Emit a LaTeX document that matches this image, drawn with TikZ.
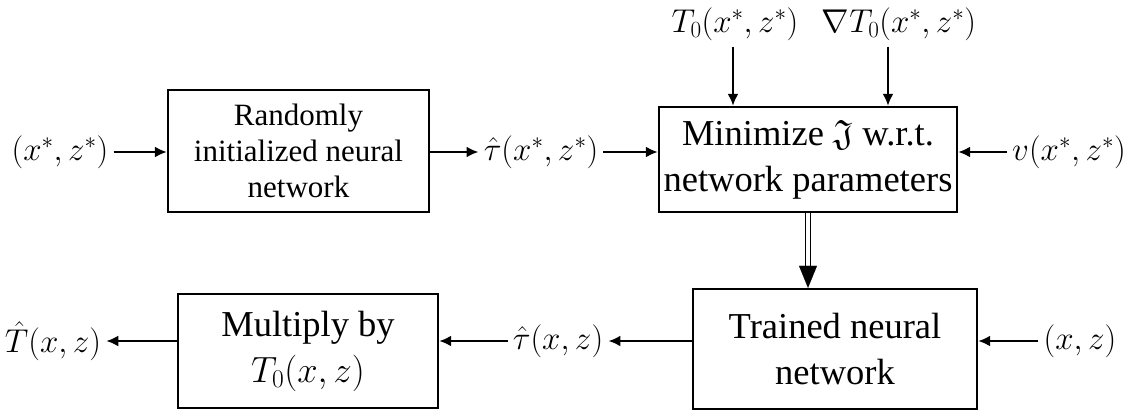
\RequirePackage{fix-cm}
\documentclass[tikz,border=0pt]{standalone}
\usepackage{amssymb}
\usepackage{fontspec}
\setmainfont{Liberation Serif}
\newfontfamily\boxfont{Liberation Serif}
\usetikzlibrary{arrows.meta,calc}
\begin{document}
\begin{tikzpicture}[x=1pt,y=-1pt,
  blk/.style={draw,line width=2.3pt,align=center,inner sep=0pt},
  small/.style={font=\boxfont\fontsize{31}{36}\selectfont},
  big/.style={font=\boxfont\fontsize{36.5}{46}\selectfont},
  lbl/.style={inner sep=5pt,font=\fontsize{33}{36}\selectfont},
  toplbl/.style={lbl,inner ysep=3pt},
  arr/.style={line width=2.4pt,-{Latex[length=12pt,width=11pt]}},
]
\useasboundingbox[fill=white] (0,0) rectangle (1135,412);

% processing blocks
\node[blk,small,minimum width=261pt,minimum height=122pt] (rnd) at (298.5,151)
  {Randomly\\initialized neural\\network};
\node[blk,big,minimum width=298pt,minimum height=105pt] (opt) at (808,159.5)
  {Minimize $\mathfrak{J}$ w.r.t.\\network parameters};
\node[blk,big,minimum width=284pt,minimum height=120pt] (trn) at (835,349)
  {Trained neural\\network};
\node[blk,big,minimum width=260pt,minimum height=114pt] (mul) at (308,351)
  {Multiply by\\$T_0(x,z)$};

% signals
\node[lbl] (xs)   at (60,152)   {$(x^{*},z^{*})$};
\node[lbl] (taus) at (541,152)  {$\hat{\tau}(x^{*},z^{*})$};
\node[toplbl] (t0)  at (735,24) {$T_0(x^{*},z^{*})$};
\node[toplbl] (gt0) at (899,24) {$\nabla T_0(x^{*},z^{*})$};
\node[lbl] (vs)   at (1069,152) {$v(x^{*},z^{*})$};
\node[lbl] (xz)   at (1080,341) {$(x,z)$};
\node[lbl] (tau)  at (558,341)  {$\hat{\tau}(x,z)$};
\node[lbl] (that) at (53,341)   {$\hat{T}(x,z)$};

% top row
\draw[arr] (xs.east) -- (rnd.west |- xs.east);
\draw[arr] (rnd.east |- taus.west) -- (taus.west);
\draw[arr] (taus.east) -- (opt.west |- taus.east);
\draw[arr] (vs.west) -- (opt.east |- vs.west);
\draw[arr] ([xshift=-2pt,yshift=-3pt]t0.south) -- ([xshift=-2pt]t0.south |- opt.north);
\draw[arr] ([xshift=-11pt,yshift=-3pt]gt0.south) -- ([xshift=-11pt]gt0.south |- opt.north);

% training result passed down
\draw[line width=1.4pt,double,double distance=3.5pt] (opt.south) -- ($(opt.south |- trn.north)+(0,-18)$);
\draw[line width=0.1pt,-{Triangle[length=22pt,width=18pt]}] ($(opt.south |- trn.north)+(0,-21.9)$) -- (opt.south |- trn.north);

% bottom row
\draw[arr] (xz.west) -- (trn.east |- xz.west);
\draw[arr] (trn.west |- tau.east) -- (tau.east);
\draw[arr] (tau.west) -- (mul.east |- tau.west);
\draw[arr] (mul.west |- that.east) -- (that.east);
\end{tikzpicture}
\end{document}
